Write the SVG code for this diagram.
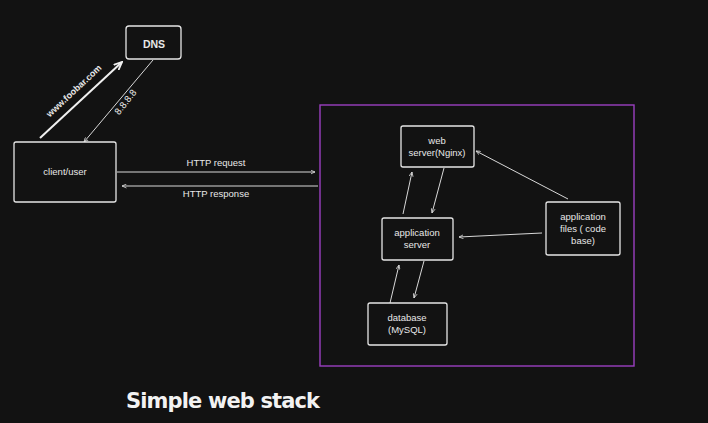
<svg xmlns="http://www.w3.org/2000/svg" width="708" height="423" viewBox="0 0 708 423">
<defs>
<style>
.bg{fill:#121212}
.box{fill:#121212;stroke:#e6e6e6;stroke-width:1.3}
.lbl{font-family:"Liberation Sans","Noto Sans",sans-serif;font-size:9.5px;fill:#e8e8e8;text-anchor:middle}
.con{fill:none;stroke:#d8d8d8;stroke-width:1}
.thick{stroke:#f0f0f0;stroke-width:2}
</style>
<marker id="ah" viewBox="0 0 10 10" refX="9" refY="5" markerWidth="5" markerHeight="5" orient="auto" markerUnits="userSpaceOnUse">
<path d="M0,1 L9,5 L0,9" fill="none" stroke="#d8d8d8" stroke-width="1.6"/>
</marker>
<marker id="ah2" viewBox="0 0 10 10" refX="9" refY="5" markerWidth="9" markerHeight="9" orient="auto" markerUnits="userSpaceOnUse">
<path d="M0,1 L9,5 L0,9" fill="none" stroke="#f0f0f0" stroke-width="2"/>
</marker>
</defs>
<rect class="bg" x="0" y="0" width="708" height="423"/>
<rect x="320" y="105" width="314" height="261" fill="none" stroke="#9b3fc0" stroke-width="1.4"/>
<g id="connectors">
<line class="con thick" x1="40" y1="138" x2="122" y2="62" marker-end="url(#ah2)"/>
<line class="con" x1="153" y1="60" x2="84" y2="142" marker-end="url(#ah)"/>
<line class="con" x1="117" y1="172" x2="315" y2="172" marker-end="url(#ah)"/>
<line class="con" x1="318" y1="186" x2="122" y2="186" marker-end="url(#ah)"/>
<line class="con" x1="403" y1="214" x2="412" y2="172" marker-end="url(#ah)"/>
<line class="con" x1="444" y1="168" x2="432" y2="213" marker-end="url(#ah)"/>
<line class="con" x1="424" y1="261" x2="414" y2="298" marker-end="url(#ah)"/>
<line class="con" x1="390" y1="303" x2="399" y2="265" marker-end="url(#ah)"/>
<line class="con" x1="568" y1="199" x2="476" y2="151" marker-end="url(#ah)"/>
<line class="con" x1="542" y1="233" x2="459" y2="237" marker-end="url(#ah)"/>
<text class="lbl" x="216" y="166">HTTP request</text>
<text class="lbl" x="216" y="197">HTTP response</text>
<text class="lbl" transform="translate(76,93) rotate(-43)" style="font-weight:bold;font-size:9px">www.foobar.com</text>
<text class="lbl" transform="translate(128,104) rotate(-52)" style="font-size:9.5px">8.8.8.8</text>
</g>
<g id="dns">
<rect class="box" x="126" y="26" width="55" height="33" rx="3" stroke-width="2"/>
<text class="lbl" x="154" y="48" style="font-weight:bold;font-size:10.5px">DNS</text>
</g>
<g id="client">
<rect class="box" x="14" y="142" width="102" height="60" rx="2"/>
<text class="lbl" x="65" y="175">client/user</text>
</g>
<g id="webserver">
<rect class="box" x="401" y="126" width="73" height="41" rx="2"/>
<text class="lbl" x="437" y="144">web</text>
<text class="lbl" x="437" y="156">server(Nginx)</text>
</g>
<g id="appserver">
<rect class="box" x="382" y="218" width="71" height="42" rx="2"/>
<text class="lbl" x="417" y="236">application</text>
<text class="lbl" x="417" y="248">server</text>
</g>
<g id="database">
<rect class="box" x="368" y="303" width="79" height="42" rx="2"/>
<text class="lbl" x="407" y="321">database</text>
<text class="lbl" x="407" y="333">(MySQL)</text>
</g>
<g id="appfiles">
<rect class="box" x="546" y="202" width="74" height="53" rx="2"/>
<text class="lbl" x="583" y="220">application</text>
<text class="lbl" x="583" y="232">files ( code</text>
<text class="lbl" x="583" y="244">base)</text>
</g>
<text x="126" y="408" textLength="194" lengthAdjust="spacing" style="font-family:'DejaVu Sans',sans-serif;font-weight:bold;font-size:21px;fill:#f2f2f2">Simple web stack</text>
</svg>
